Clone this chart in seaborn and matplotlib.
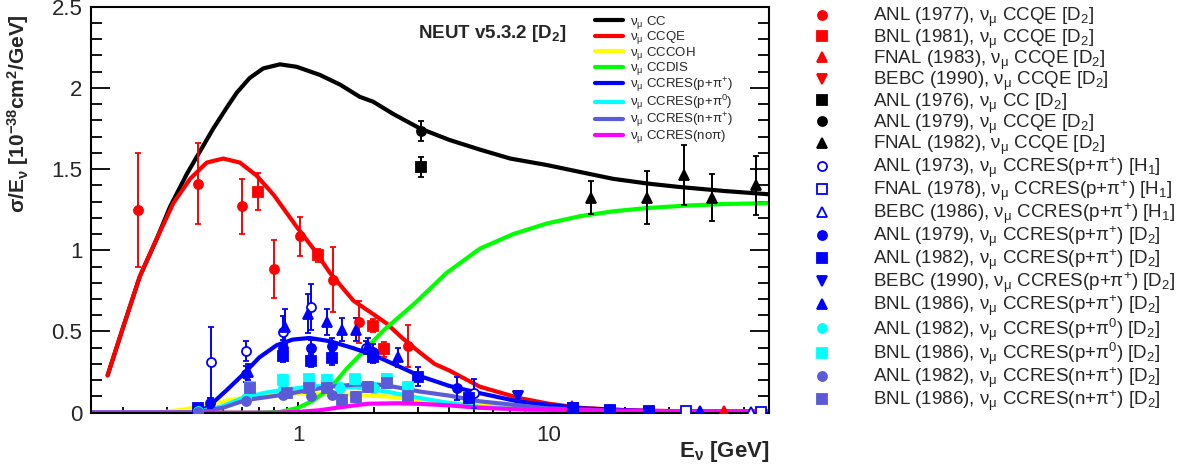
import matplotlib
matplotlib.use("Agg")
import matplotlib.pyplot as plt
import seaborn as sns
from matplotlib.lines import Line2D
from matplotlib.ticker import FixedLocator, NullFormatter, FuncFormatter, MultipleLocator, LogLocator

# ---------------- model curves (NEUT) ----------------
E_cc = [0.174, 0.201, 0.234, 0.273, 0.309, 0.36, 0.41, 0.459, 0.52, 0.569, 0.64, 0.726, 0.846, 0.986,
        1.22, 1.47, 1.76, 1.99, 2.39, 3.06, 4.0, 5.3, 7.0, 9.8, 13.5, 18, 25, 33, 50, 75]
cc = [0.23, 0.53, 0.84, 1.07, 1.27, 1.47, 1.62, 1.75, 1.88, 1.97, 2.06, 2.12, 2.145, 2.13,
      2.08, 2.02, 1.945, 1.915, 1.84, 1.75, 1.68, 1.62, 1.565, 1.525, 1.48, 1.44, 1.41, 1.39, 1.365, 1.345]

E_qe = [0.174, 0.201, 0.234, 0.273, 0.318, 0.371, 0.432, 0.503, 0.586, 0.683, 0.8, 0.986, 1.15, 1.34,
        1.66, 2.0, 2.25, 2.6, 3.06, 3.5, 4.0, 5.3, 7.6, 10, 13.3, 20, 35, 75]
qe = [0.23, 0.53, 0.84, 1.07, 1.29, 1.44, 1.54, 1.565, 1.54, 1.46, 1.34, 1.145, 1.01, 0.86,
      0.69, 0.605, 0.55, 0.46, 0.37, 0.30, 0.26, 0.16, 0.09, 0.055, 0.03, 0.015, 0.008, 0.005]

E_coh = [0.15, 0.28, 0.35, 0.41, 0.53, 0.7, 0.9, 1.2, 1.66, 2.25, 3.0, 4.0, 5.3, 9.8, 20, 75]
coh = [0, 0, 0.02, 0.04, 0.078, 0.105, 0.115, 0.118, 0.11, 0.1, 0.08, 0.06, 0.045, 0.02, 0.008, 0.003]

E_dis = [0.15, 0.7, 0.85, 1.0, 1.15, 1.34, 1.56, 1.8, 2.2, 2.9, 3.9, 5.3, 7.2, 9.8, 13.3, 18, 24.5, 35, 50, 75]
dis = [0, 0, 0.005, 0.03, 0.075, 0.15, 0.27, 0.37, 0.51, 0.67, 0.86, 1.01, 1.10, 1.165, 1.21, 1.24, 1.26,
       1.275, 1.285, 1.29]

E_res1 = [0.15, 0.38, 0.41, 0.445, 0.52, 0.6, 0.7, 0.82, 0.95, 1.11, 1.34, 1.66, 2.0, 2.62, 3.06, 4.0,
          5.3, 7.6, 13.3, 25, 75]
res1 = [0, 0, 0.01, 0.045, 0.14, 0.232, 0.34, 0.415, 0.45, 0.46, 0.44, 0.397, 0.355, 0.273, 0.225, 0.165,
        0.12, 0.068, 0.027, 0.01, 0.005]

E_res0 = [0.15, 0.38, 0.5, 0.6, 0.75, 0.87, 1.15, 1.4, 1.7, 2.25, 3.06, 4.0, 5.3, 9.8, 20, 75]
res0 = [0, 0, 0.04, 0.09, 0.125, 0.14, 0.163, 0.165, 0.155, 0.13, 0.09, 0.06, 0.035, 0.012, 0.005, 0.003]

E_resn = [0.15, 0.38, 0.5, 0.62, 0.87, 1.11, 1.34, 1.66, 2.0, 2.25, 3.06, 4.0, 5.3, 9.8, 20, 75]
resn = [0, 0, 0.03, 0.078, 0.11, 0.14, 0.16, 0.172, 0.175, 0.168, 0.13, 0.105, 0.07, 0.027, 0.01, 0.004]

E_nopi = [0.15, 0.8, 1.0, 1.22, 1.5, 1.9, 2.5, 3.0, 4.0, 5.3, 8, 13, 30, 75]
nopi = [0, 0, 0.005, 0.015, 0.035, 0.055, 0.058, 0.055, 0.045, 0.03, 0.02, 0.015, 0.01, 0.008]

# ---------------- data sets ----------------
anl77_E = [0.23, 0.40, 0.60, 0.80, 1.02, 1.38, 1.75, 2.74]
anl77_y = [1.25, 1.41, 1.27, 0.885, 1.085, 0.82, 0.56, 0.41]
anl77_e = [0.35, 0.25, 0.17, 0.18, 0.12, 0.2, 0.13, 0.13]

bnl81_E = [0.69, 1.2, 1.99, 2.2]
bnl81_y = [1.36, 0.97, 0.535, 0.39]
bnl81_e = [0.115, 0.04, 0.04, 0.045]

fnal83_E = [12.3, 50]
fnal83_y = [0.04, 0.01]
fnal83_e = [0.005, 0.003]

bebc90qe_E = [7.5]
bebc90qe_y = [0.1]
bebc90qe_e = [0.01]

anl76_E = [3.1]
anl76_y = [1.515]
anl76_e = [0.062]

anl79qe_E = [3.1]
anl79qe_y = [1.736]
anl79qe_e = [0.062]

fnal82_E = [14.7, 24.5, 34.4, 44.6, 67]
fnal82_y = [1.324, 1.324, 1.464, 1.324, 1.40]
fnal82_e = [0.103, 0.162, 0.184, 0.144, 0.183]

anl73_E = [0.45, 0.62, 0.87, 1.12, 1.86, 5.0]
anl73_y = [0.31, 0.38, 0.495, 0.65, 0.40, 0.12]
anl73_e = [0.22, 0.06, 0.1, 0.14, 0.04, 0.09]

fnal78_E = [12.5, 17.5, 25, 35, 70]
fnal78_y = [0.03, 0.015, 0.012, 0.01, 0.005]
fnal78_e = [0.006, 0.004, 0.003, 0.003, 0.002]

bebc86_E = [17.5, 25, 40, 64]
bebc86_y = [0.015, 0.012, 0.008, 0.005]
bebc86_e = [0.004, 0.003, 0.003, 0.002]

anl79_E = [0.445, 0.62, 0.87, 1.12, 1.37, 1.99, 4.3]
anl79_y = [0.06, 0.24, 0.40, 0.40, 0.41, 0.375, 0.15]
anl79_e = [0.03, 0.05, 0.05, 0.05, 0.05, 0.05, 0.07]

anl82_E = [0.40, 0.87, 1.12, 1.37, 1.99, 3.0, 4.8, 12.5, 17.5, 25]
anl82_y = [0.03, 0.35, 0.32, 0.335, 0.345, 0.222, 0.09, 0.027, 0.01, 0.006]
anl82_e = [0.015, 0.04, 0.04, 0.04, 0.04, 0.06, 0.03, 0.01, 0.005, 0.004]

bebc90_E = [7.5]
bebc90_y = [0.1]
bebc90_e = [0.01]

bnl86_E = [0.63, 0.89, 1.09, 1.3, 1.5, 1.7, 1.89, 2.5, 17.5, 40]
bnl86_y = [0.25, 0.53, 0.61, 0.56, 0.51, 0.51, 0.41, 0.34, 0.01, 0.006]
bnl86_e = [0.05, 0.11, 0.12, 0.08, 0.07, 0.07, 0.05, 0.06, 0.005, 0.004]

anl82p0_E = [0.40, 0.62, 0.87, 1.12, 1.47, 2.0]
anl82p0_y = [0.01, 0.09, 0.15, 0.17, 0.15, 0.15]
anl82p0_e = [0.01, 0.02, 0.03, 0.03, 0.03, 0.03]

bnl86p0_E = [0.64, 0.87, 1.1, 1.3, 1.68, 2.25, 2.74]
bnl86p0_y = [0.16, 0.20, 0.205, 0.20, 0.205, 0.21, 0.16]
bnl86p0_e = [0.03, 0.03, 0.03, 0.03, 0.03, 0.03, 0.03]

anl82n_E = [0.40, 0.62, 0.87, 1.12, 1.37]
anl82n_y = [0.005, 0.075, 0.11, 0.10, 0.11]
anl82n_e = [0.01, 0.02, 0.02, 0.02, 0.02]

bnl86n_E = [0.64, 0.9, 1.1, 1.3, 1.5, 1.7, 1.89, 2.25, 2.74]
bnl86n_y = [0.15, 0.12, 0.15, 0.15, 0.078, 0.097, 0.156, 0.185, 0.10]
bnl86n_e = [0.03, 0.03, 0.03, 0.03, 0.03, 0.03, 0.03, 0.03, 0.03]

# ---------------- style ----------------
sns.set_style("white")
plt.rcParams['font.family'] = ['Liberation Sans', 'DejaVu Sans']
plt.rcParams['mathtext.fontset'] = 'custom'
plt.rcParams['mathtext.rm'] = 'Liberation Sans'
plt.rcParams['mathtext.it'] = 'Liberation Sans:italic'
plt.rcParams['mathtext.bf'] = 'Liberation Sans:bold'

RED = '#ff0000'
BLUE = '#0000ff'
CYAN = '#00ffff'
LAV = '#5b5bd8'
NU = r'ν$_{\mathrm{μ}}$'

fig = plt.figure(figsize=(11.99, 4.68), dpi=100)
ax = fig.add_axes([0.07565, 0.1182, 0.566, 0.8675])

curves = [
    (E_cc, cc, 'black', NU + ' CC'),
    (E_qe, qe, RED, NU + ' CCQE'),
    (E_coh, coh, '#ffff00', NU + ' CCCOH'),
    (E_dis, dis, '#00ff00', NU + ' CCDIS'),
    (E_res1, res1, BLUE, NU + r' CCRES(p+π$^{+}$)'),
    (E_res0, res0, CYAN, NU + r' CCRES(p+π$^{0}$)'),
    (E_resn, resn, LAV, NU + r' CCRES(n+π$^{+}$)'),
    (E_nopi, nopi, '#ff00ff', NU + ' CCRES(noπ)'),
]
curve_handles = []
for i, (xe, yv, c, lab) in enumerate(curves):
    sns.lineplot(x=xe, y=yv, color=c, linewidth=3, ax=ax, sort=False, estimator=None, zorder=2 + i * 0.01)
    curve_handles.append(Line2D([], [], color=c, linewidth=3, label=lab))

datasets = [
    (anl77_E, anl77_y, anl77_e, 'o', RED, True, r'ANL (1977), ' + NU + r' CCQE [D$_{2}$]'),
    (bnl81_E, bnl81_y, bnl81_e, 's', RED, True, r'BNL (1981), ' + NU + r' CCQE [D$_{2}$]'),
    (fnal83_E, fnal83_y, fnal83_e, '^', RED, True, r'FNAL (1983), ' + NU + r' CCQE [D$_{2}$]'),
    (bebc90qe_E, bebc90qe_y, bebc90qe_e, 'v', RED, True, r'BEBC (1990), ' + NU + r' CCQE [D$_{2}$]'),
    (anl76_E, anl76_y, anl76_e, 's', 'black', True, r'ANL (1976), ' + NU + r' CC [D$_{2}$]'),
    (anl79qe_E, anl79qe_y, anl79qe_e, 'o', 'black', True, r'ANL (1979), ' + NU + r' CCQE [D$_{2}$]'),
    (fnal82_E, fnal82_y, fnal82_e, '^', 'black', True, r'FNAL (1982), ' + NU + r' CCQE [D$_{2}$]'),
    (anl73_E, anl73_y, anl73_e, 'o', BLUE, False, r'ANL (1973), ' + NU + r' CCRES(p+π$^{+}$) [H$_{1}$]'),
    (fnal78_E, fnal78_y, fnal78_e, 's', BLUE, False, r'FNAL (1978), ' + NU + r' CCRES(p+π$^{+}$) [H$_{1}$]'),
    (bebc86_E, bebc86_y, bebc86_e, '^', BLUE, False, r'BEBC (1986), ' + NU + r' CCRES(p+π$^{+}$) [H$_{1}$]'),
    (anl79_E, anl79_y, anl79_e, 'o', BLUE, True, r'ANL (1979), ' + NU + r' CCRES(p+π$^{+}$) [D$_{2}$]'),
    (anl82_E, anl82_y, anl82_e, 's', BLUE, True, r'ANL (1982), ' + NU + r' CCRES(p+π$^{+}$) [D$_{2}$]'),
    (bebc90_E, bebc90_y, bebc90_e, 'v', BLUE, True, r'BEBC (1990), ' + NU + r' CCRES(p+π$^{+}$) [D$_{2}$]'),
    (bnl86_E, bnl86_y, bnl86_e, '^', BLUE, True, r'BNL (1986), ' + NU + r' CCRES(p+π$^{+}$) [D$_{2}$]'),
    (anl82p0_E, anl82p0_y, anl82p0_e, 'o', CYAN, True, r'ANL (1982), ' + NU + r' CCRES(p+π$^{0}$) [D$_{2}$]'),
    (bnl86p0_E, bnl86p0_y, bnl86p0_e, 's', CYAN, True, r'BNL (1986), ' + NU + r' CCRES(p+π$^{0}$) [D$_{2}$]'),
    (anl82n_E, anl82n_y, anl82n_e, 'o', LAV, True, r'ANL (1982), ' + NU + r' CCRES(n+π$^{+}$) [D$_{2}$]'),
    (bnl86n_E, bnl86n_y, bnl86n_e, 's', LAV, True, r'BNL (1986), ' + NU + r' CCRES(n+π$^{+}$) [D$_{2}$]'),
]
data_handles = []
for xe, yv, ye, m, c, filled, lab in datasets:
    ax.errorbar(xe, yv, yerr=ye, fmt=m, color=c, mfc=c if filled else 'white', mec=c,
                mew=1.3, ms=6.5, capsize=2, elinewidth=1.4, capthick=1.2, zorder=5)
    data_handles.append(Line2D([], [], marker=m, linestyle='none', color=c, mfc=c if filled else 'white',
                               mec=c, mew=1.3, ms=6.5, label=lab))

# ---------------- axes ----------------
ax.set_xscale('log')
ax.set_xlim(0.149, 75.5)
ax.set_ylim(0, 2.5)
ax.xaxis.set_major_locator(FixedLocator([1, 10]))
ax.xaxis.set_major_formatter(FuncFormatter(lambda v, p: f'{v:g}'))
ax.xaxis.set_minor_locator(LogLocator(base=10, subs=[2, 3, 4, 5, 6, 7, 8, 9]))
ax.xaxis.set_minor_formatter(NullFormatter())
ax.yaxis.set_major_locator(MultipleLocator(0.5))
ax.yaxis.set_minor_locator(MultipleLocator(0.1))
ax.yaxis.set_major_formatter(FuncFormatter(lambda v, p: f'{v:g}'))

ax.tick_params(axis='y', which='major', direction='in', length=14, width=1.3, right=True, left=True,
               labelsize=16, pad=6, color='black')
ax.tick_params(axis='y', which='minor', direction='in', length=8, width=1.3, right=True, left=True, color='black')
ax.tick_params(axis='x', which='major', direction='in', length=8, width=1.3, top=False, bottom=True,
               labelsize=16, pad=9, color='black')
ax.tick_params(axis='x', which='minor', direction='in', length=4, width=1.3, top=False, bottom=True, color='black')
for s in ax.spines.values():
    s.set_linewidth(1.5)
    s.set_color('black')

ax.set_ylabel(r'σ/E$_{\mathbf{ν}}$ [10$^{\mathbf{-38}}$cm$^{\mathbf{2}}$/GeV]', fontsize=15, fontweight='bold',
              loc='top')
ax.yaxis.set_label_coords(-0.088, 0.982)
ax.set_xlabel(r'E$_{\mathbf{ν}}$ [GeV]', fontsize=16, fontweight='bold', loc='right', labelpad=-5)

ax.text(0.482, 0.935, r'NEUT v5.3.2 [D$_{\mathbf{2}}$]', transform=ax.transAxes, fontsize=13.5,
        fontweight='bold', va='center', ha='left')

ax.legend(handles=curve_handles, loc='upper left', bbox_to_anchor=(0.7358, 0.995), fontsize=9.5,
          frameon=False, handlelength=2.1, handletextpad=0.5, labelspacing=-0.12, borderaxespad=0)

fig.legend(handles=data_handles, loc='upper left', bbox_to_anchor=(0.6713, 1.003), fontsize=13.5,
           frameon=False, handlelength=1.0, handletextpad=2.25, labelspacing=-0.1, borderaxespad=0)

fig.savefig('out.png', dpi=100)
